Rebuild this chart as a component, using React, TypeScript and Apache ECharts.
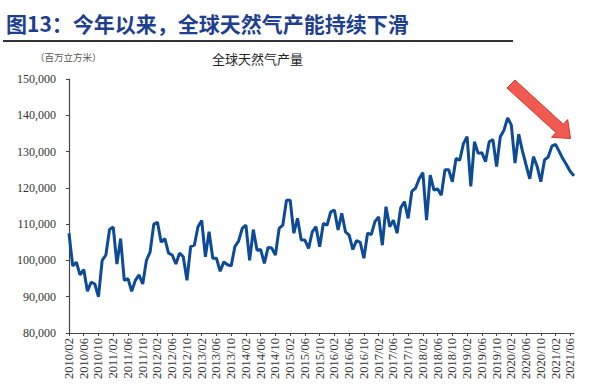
import React, { useEffect, useRef } from "react";
import * as echarts from "echarts";

const startYear = 2010;
const startMonth = 2;
const production = [
  107500, 98500, 99500, 96000, 97500, 91500, 94000, 93500, 90000, 100000,
  101500, 108500, 109200, 99000, 106000, 94500, 95000, 91500, 94500, 96000,
  93500, 100000, 102300, 110000, 110500, 105000, 106000, 102000, 101500, 99000,
  102000, 101000, 94500, 103800, 104200, 109300, 111000, 101000, 107900, 100600,
  100600, 97000, 99600, 98800, 98500, 103800, 105300, 108800, 109700, 100000,
  108500, 102800, 103000, 99200, 103600, 103400, 101500, 108800, 109700, 116600,
  116600, 107500, 111600, 105600, 105600, 103300, 107900, 109300, 103800, 110200,
  109700, 113400, 113900, 108400, 113000, 107900, 107000, 103000, 105500, 105000,
  100600, 107500, 107100, 110700, 112000, 104200, 114800, 109300, 111100, 107500,
  114500, 116200, 111600, 119000, 119900, 122500, 124200, 111100, 123500, 119400,
  119700, 118000, 125000, 125000, 121700, 128100, 127600, 132200, 134100, 120400,
  132700, 129500, 129700, 127200, 132700, 133300, 125900, 134100, 135900, 139300,
  137300, 126800, 134800, 130200, 126300, 122500, 128600, 125900, 121700, 127700,
  128500, 131500, 132000, 130000, 128000, 126300, 124500, 123300,
];
const months: string[] = production.map((_, i) => {
  const t = startMonth - 1 + i;
  const y = startYear + Math.floor(t / 12);
  const m = (t % 12) + 1;
  return `${y}/${m < 10 ? "0" + m : m}`;
});
const yMin = 80000;
const yMax = 150000;
const yStep = 10000;

const mainTitle = "图13：今年以来，全球天然气产能持续下滑";
const chartTitle = "全球天然气产量";
const unitText = "（百万立方米）";

export default function App() {
  const ref = useRef<HTMLDivElement>(null);
  useEffect(() => {
    document.body.style.margin = "0";
    const chart = echarts.init(ref.current!, null, { renderer: "svg" });
    chart.setOption({
      animation: false,
      backgroundColor: "#ffffff",
      grid: { left: 69, right: 21, top: 79, bottom: 55, containLabel: false },
      xAxis: {
        type: "category",
        data: months,
        boundaryGap: false,
        axisLine: { lineStyle: { color: "#444", width: 1.2 } },
        axisTick: { interval: 3, length: 3, lineStyle: { color: "#444" } },
        axisLabel: {
          interval: 3,
          rotate: 90,
          margin: 5,
          fontSize: 12.5,
          fontFamily: "Liberation Serif",
          color: "#333",
        },
        splitLine: { show: false },
      },
      yAxis: {
        type: "value",
        min: yMin,
        max: yMax,
        interval: yStep,
        axisLine: { show: true, lineStyle: { color: "#444", width: 1.2 } },
        axisTick: { show: true, length: 3, lineStyle: { color: "#444" } },
        axisLabel: {
          margin: 13,
          fontSize: 12,
          fontFamily: "Liberation Serif",
          color: "#333",
          formatter: (v: number) => v.toLocaleString("en-US"),
        },
        splitLine: { show: false },
      },
      series: [
        {
          type: "line",
          data: production,
          symbol: "none",
          lineStyle: { color: "#0d4a98", width: 3 },
        },
      ],
      graphic: [
        {
          type: "text",
          left: 6,
          top: 12,
          style: {
            text: mainTitle,
            fontSize: 21,
            fontWeight: "bold",
            fontFamily: "Noto Sans CJK SC",
            fill: "#1e3f8f",
          },
        },
        {
          type: "line",
          shape: { x1: 3, y1: 41, x2: 513, y2: 41 },
          style: { stroke: "#333", lineWidth: 2 },
        },
        {
          type: "text",
          left: 35,
          top: 52,
          style: {
            text: unitText,
            fontSize: 9.5,
            fontFamily: "Noto Sans CJK SC",
            fill: "#555",
          },
        },
        {
          type: "text",
          left: 212,
          top: 52,
          style: {
            text: chartTitle,
            fontSize: 13,
            fontFamily: "Noto Sans CJK SC",
            fill: "#222",
          },
        },
        {
          type: "polygon",
          shape: {
            points: [
              [515, 80],
              [563.3, 124.3],
              [567.7, 119.5],
              [570.5, 138.5],
              [551.5, 137.3],
              [555.9, 132.5],
              [507, 88],
            ],
          },
          style: { fill: "#f05a50", stroke: "#d63a30", lineWidth: 1 },
          z: 100,
        },
      ],
    });
    return () => chart.dispose();
  }, []);
  return (
    <div
      ref={ref}
      style={{ position: "absolute", left: 0, top: 0, width: 595, height: 388 }}
    />
  );
}
